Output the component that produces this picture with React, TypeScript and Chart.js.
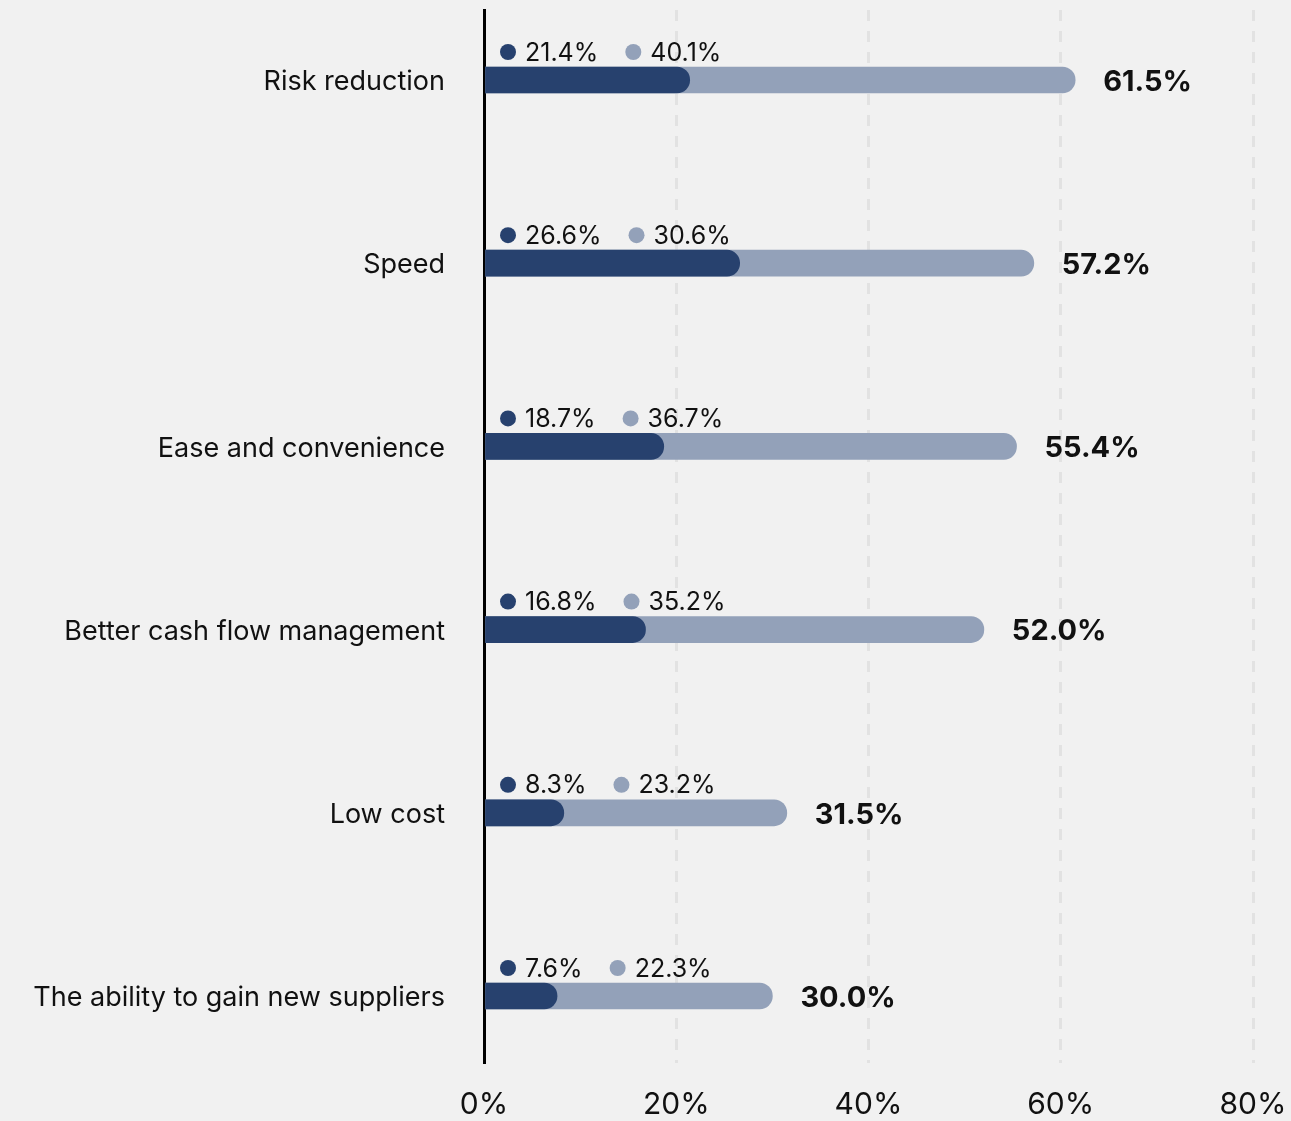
import React, { useEffect, useRef } from "react";
import { Chart, registerables } from "chart.js";

Chart.register(...registerables);

const categories = [
  "Risk reduction",
  "Speed",
  "Ease and convenience",
  "Better cash flow management",
  "Low cost",
  "The ability to gain new suppliers",
];
const darkValues = [21.4, 26.6, 18.7, 16.8, 8.3, 7.6];
const lightValues = [40.1, 30.6, 36.7, 35.2, 23.2, 22.3];
const totalValues = [61.5, 57.2, 55.4, 52.0, 31.5, 30.0];
const xTicks = [0, 20, 40, 60, 80];

const DARK = "#27416e";
const LIGHT = "#93a1b9";
const BG = "#f1f1f1";
const FONT = "Inter, 'Noto Sans', sans-serif";

const labelPlugin = {
  id: "barLabels",
  afterDatasetsDraw(chart: any) {
    const ctx = chart.ctx;
    const xs = chart.scales.x;
    const lightMeta = chart.getDatasetMeta(0);
    const darkMeta = chart.getDatasetMeta(1);
    const x0 = xs.getPixelForValue(0);
    ctx.save();
    categories.forEach((_, i) => {
      const lb = lightMeta.data[i];
      const db = darkMeta.data[i];
      const y = db.y;
      // total label
      ctx.font = `bold 29px ${FONT}`;
      ctx.fillStyle = "#111";
      ctx.textAlign = "left";
      ctx.textBaseline = "middle";
      ctx.fillText(totalValues[i].toFixed(1) + "%", lb.x + 28, y + 2);
      // small labels
      const ly = y - 28;
      ctx.font = `25px ${FONT}`;
      let cx = x0 + 24;
      ctx.fillStyle = DARK;
      ctx.beginPath();
      ctx.arc(cx, ly, 8, 0, Math.PI * 2);
      ctx.fill();
      ctx.fillStyle = "#111";
      const t1 = darkValues[i].toFixed(1) + "%";
      ctx.fillText(t1, cx + 17, ly + 1);
      cx = cx + 17 + ctx.measureText(t1).width + 35;
      ctx.fillStyle = LIGHT;
      ctx.beginPath();
      ctx.arc(cx, ly, 8, 0, Math.PI * 2);
      ctx.fill();
      ctx.fillStyle = "#111";
      ctx.fillText(lightValues[i].toFixed(1) + "%", cx + 17, ly + 1);
    });
    ctx.restore();
  },
};

const bgPlugin = {
  id: "bg",
  beforeDraw(chart: any) {
    const ctx = chart.ctx;
    ctx.save();
    ctx.fillStyle = BG;
    ctx.fillRect(0, 0, chart.width, chart.height);
    ctx.restore();
  },
};

export default function App() {
  const ref = useRef<HTMLCanvasElement | null>(null);
  useEffect(() => {
    if (!ref.current) return;
    const chart = new Chart(ref.current, {
      type: "bar",
      data: {
        datasets: [
          {
            label: "Total",
            data: totalValues.map((v, i) => ({ x: v, y: i })),
            backgroundColor: LIGHT,
            borderRadius: 13,
            borderSkipped: "start",
            barThickness: 26,
            grouped: false,
            order: 1,
          },
          {
            label: "Dark",
            data: darkValues.map((v, i) => ({ x: v, y: i })),
            backgroundColor: DARK,
            borderRadius: 13,
            borderSkipped: "start",
            barThickness: 26,
            grouped: false,
            order: 0,
          },
        ] as any,
      },
      options: {
        indexAxis: "y",
        animation: false,
        responsive: false,
        maintainAspectRatio: false,
        layout: { padding: { left: 0, right: 38, top: 10, bottom: 0 } },
        plugins: { legend: { display: false }, tooltip: { enabled: false } },
        scales: {
          x: {
            type: "linear",
            min: 0,
            max: 80,
            afterBuildTicks: (s: any) => {
              s.ticks = xTicks.map((v) => ({ value: v }));
            },
            afterFit: (s: any) => {
              s.height = 58;
              s.paddingLeft = 0;
              s.paddingRight = 0;
            },
            grid: {
              color: "#e2e2e2",
              lineWidth: 3,
              drawTicks: false,
            },
            border: { display: false, dash: [11, 10] },
            ticks: {
              padding: 24,
              color: "#111",
              font: { family: FONT, size: 30 },
              callback: (v: any) => v + "%",
            },
          },
          y: {
            type: "linear",
            reverse: true,
            offset: false,
            bounds: "data",
            min: -0.3821,
            max: 5.3657,
            afterBuildTicks: (s: any) => {
              s.ticks = categories.map((_, i) => ({ value: i }));
            },
            afterFit: (s: any) => {
              s.width = 484;
              s.paddingTop = 0;
              s.paddingBottom = 0;
            },
            grid: { display: false, drawTicks: false },
            border: { display: true, color: "#000", width: 3 },
            ticks: {
              padding: 39,
              labelOffset: 2,
              color: "#111",
              font: { family: FONT, size: 27 },
              callback: (v: any) => categories[v] ?? "",
            },
          },
        },
      } as any,
      plugins: [bgPlugin, labelPlugin],
    });
    return () => chart.destroy();
  }, []);
  return (
    <div style={{ position: "fixed", left: 0, top: 0, width: 1291, height: 1121, background: BG }}>
      <canvas ref={ref} width={1291} height={1121} style={{ display: "block" }} />
    </div>
  );
}
